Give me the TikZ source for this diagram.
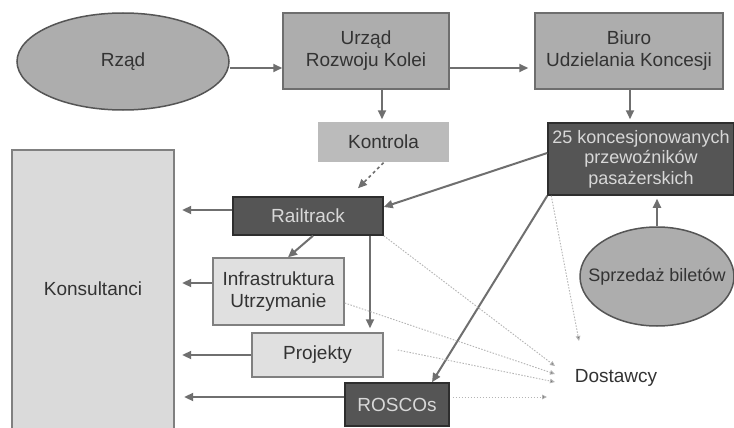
\documentclass[tikz,border=0pt]{standalone}
\usepackage{fontspec}
\setmainfont{Liberation Sans}
\usetikzlibrary{arrows.meta,shapes.geometric}
\definecolor{midg}{HTML}{ADADAD}
\definecolor{kontg}{HTML}{BBBBBB}
\definecolor{bordg}{HTML}{6E6E6E}
\definecolor{ellb}{HTML}{555555}
\definecolor{darkf}{HTML}{555555}
\definecolor{darkb}{HTML}{2E2E2E}
\definecolor{lightf}{HTML}{E0E0E0}
\definecolor{konsf}{HTML}{DADADA}
\definecolor{lbord}{HTML}{808080}
\definecolor{txtg}{HTML}{333333}
\definecolor{txtl}{HTML}{D8D8D8}
\definecolor{arrg}{HTML}{6F6F6F}
\definecolor{dotg}{HTML}{B4B4B4}
\begin{document}
\begin{tikzpicture}[x=1pt,y=-1pt,
  basefont/.style={font=\fontsize{19}{22}\selectfont},
  box/.style={basefont, draw=bordg, line width=1.5pt, fill=midg, text=txtg, align=center, inner sep=0pt},
  lbox/.style={box, draw=lbord, fill=lightf},
  dbox/.style={box, draw=darkb, fill=darkf, text=txtl},
  ell/.style={ellipse, draw=ellb, line width=1.5pt, fill=midg, inner sep=0pt},
  txt/.style={basefont, text=txtg, inner sep=0pt},
  arr/.style={draw=arrg, line width=2pt, -{Triangle[length=9pt,width=8pt]}},
  dasharr/.style={draw=arrg, line width=1.5pt, dashed, -{Triangle[length=9pt,width=8pt]}},
  dotarr/.style={draw=dotg, line width=0.9pt, dash pattern=on 1.5pt off 1.5pt, -{Triangle[length=5pt,width=4.5pt,fill=arrg]}}
]
\useasboundingbox (0,0) rectangle (734,428);
\fill[white] (0,0) rectangle (734,428);

% top row
\node[ell, minimum width=212pt, minimum height=97pt] (rzad) at (123,61.5) {};
\node[txt] (rzadtxt) at (rzad) {Rząd};
\node[box, minimum width=166pt, minimum height=76pt] (urzad) at (366,51) {Urząd\\Rozwoju Kolei};
\node[box, minimum width=188pt, minimum height=76pt] (biuro) at (629,51) {Biuro\\Udzielania Koncesji};

% second row
\node[box, draw=none, fill=kontg, minimum width=131pt, minimum height=40pt] (kontrola) at (383.5,142) {Kontrola};
\node[dbox, font=\fontsize{18}{20.5}\selectfont, minimum width=186pt, minimum height=72pt] (konc) at (641,159) {25 koncesjonowanych\\przewoźników\\pasażerskich};

% Konsultanci (open at the bottom)
\node[basefont, fill=konsf, text=txtg, inner sep=0pt, minimum width=162pt, minimum height=278pt] (konsult) at (93,289) {Konsultanci};
\draw[draw=lbord, line width=1.5pt] (konsult.south west) |- (konsult.north east) -- (konsult.south east);

% middle boxes
\node[dbox, minimum width=150pt, minimum height=38pt] (rail) at (308,216) {Railtrack};
\node[lbox, minimum width=131pt, minimum height=67pt] (infra) at (278.5,291.5) {Infrastruktura\\Utrzymanie};
\node[lbox, minimum width=131pt, minimum height=44pt] (proj) at (317.5,355) {Projekty};
\node[dbox, minimum width=104pt, minimum height=43pt] (roscos) at (397,404.5) {ROSCOs};

% ticket sales
\node[ell, minimum width=154pt, minimum height=99pt] (sprz) at (657,276.5) {};
\node[txt, font=\fontsize{18}{20}\selectfont] (sprztxt) at (sprz) {Sprzedaż biletów};

% suppliers
\node[txt] (dost) at (616,378) {Dostawcy};
\coordinate (d1) at (555,366);
\coordinate (d2) at (555,374);
\coordinate (d3) at (555,382);
\coordinate (d4) at (547,397);
\coordinate (d5) at (579,341);

% solid arrows, top part
\draw[arr] ([yshift=-6.5pt]rzad.east) -- ([yshift=-17pt]urzad.west);
\draw[arr, shorten >=6pt] ([yshift=-17pt]urzad.east) -- ([yshift=-17pt]biuro.west);
\draw[arr, shorten >=2pt] ([xshift=16pt]urzad.south) -- ([xshift=16pt]urzad.south |- kontrola.north);
\draw[arr, shorten >=3pt] ([xshift=1pt]biuro.south) -- ([xshift=1pt]biuro.south |- konc.north);
\draw[dasharr] (kontrola.south) -- ([xshift=50pt,yshift=8pt]rail.north);
\draw[arr] ([yshift=6pt]konc.west) -- ([yshift=9pt]rail.east);
\draw[arr] (konc.south west) -- ([xshift=35pt]roscos.north);
\draw[arr, shorten >=3pt] (sprz.north) -- (sprz.north |- konc.south);

% Railtrack arrows
\draw[arr] ([xshift=5pt]rail.south) -- ([xshift=9.5pt]infra.north);
\draw[arr, shorten >=4pt] ([xshift=62pt]rail.south) -- ([xshift=62pt]rail.south |- proj.north);

% arrows to Konsultanci
\draw[arr, shorten >=8pt] ([yshift=6pt]rail.west) -- ([yshift=6pt]rail.west -| konsult.east);
\draw[arr, shorten >=8pt] ([yshift=8.5pt]infra.west) -- ([yshift=8.5pt]infra.west -| konsult.east);
\draw[arr, shorten >=8pt] (proj.west) -- (proj.west -| konsult.east);
\draw[arr, shorten >=10pt] ([yshift=7.5pt]roscos.west) -- ([yshift=7.5pt]roscos.west -| konsult.east);

% dotted lines to suppliers
\draw[dotarr] (rail.south east) -- (d1);
\draw[dotarr] ([yshift=-11.5pt]infra.east) -- (d2);
\draw[dotarr] ([xshift=14pt,yshift=5pt]proj.east) -- (d3);
\draw[dotarr] ([xshift=3pt,yshift=7.5pt]roscos.east) -- (d4);
\draw[dotarr] ([xshift=4pt]konc.south west) -- (d5);
\end{tikzpicture}
\end{document}
